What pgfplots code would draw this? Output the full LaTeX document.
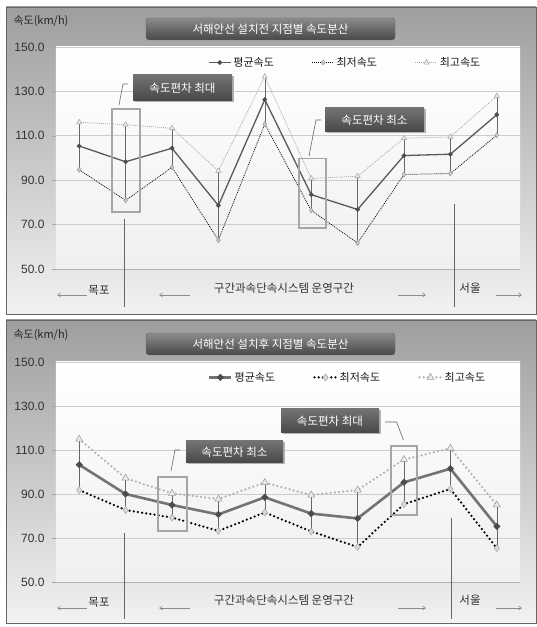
\documentclass[border=0pt]{standalone}
\usepackage{pgfplots}
\pgfplotsset{compat=1.18}
\usepackage{pgfplotstable}
\usepackage{fontspec}
\setmainfont{Liberation Sans}
\newfontfamily\kr{Noto Sans CJK KR}
\usetikzlibrary{arrows.meta}

\pgfplotstableread{
x mean lo hi
1 105.4 94.7 116.1
2 98.3 80.9 115.0
3 104.4 95.8 113.4
4 78.6 63.0 94.2
5 126.3 115.3 136.7
6 83.5 76.4 90.8
7 76.8 61.7 91.8
8 101.1 92.6 108.9
9 101.7 93.0 109.5
10 119.5 110.3 127.9
}\before

\pgfplotstableread{
x mean lo hi
1 103.3 91.8 114.9
2 90.0 82.7 97.2
3 85.0 79.3 90.3
4 80.7 73.2 87.7
5 88.5 81.6 95.2
6 81.1 73.0 89.5
7 78.9 65.9 91.8
8 95.3 85.4 105.7
9 101.5 92.3 110.8
10 75.3 65.4 85.0
}\after

\pgfplotsset{
  panel/.style={
    scale only axis, width=464pt,
    xmin=0.5, xmax=10.5, ymin=50, ymax=150,
    axis x line=bottom, axis y line=left,
    x axis line style={black!30,-},
    y axis line style={draw=none},
    xtick=\empty,
    ytick={50,70,...,150},
    ymajorgrids, grid style={black!20, line width=0.6pt},
    major tick length=4pt, tick align=outside,
    ytick style={black!35},
    /pgf/number format/assume math mode=true,
    yticklabel style={/pgf/number format/fixed, /pgf/number format/fixed zerofill, /pgf/number format/precision=1, font=\fontsize{12}{12}\selectfont, text=black!80, xshift=-4pt},
    axis background/.style={top color=white, bottom color=black!6},
    clip=false,
    legend columns=3,
    reverse legend,
    legend style={draw=none, fill=none, font=\kr\fontsize{11}{12}\selectfont, text=black!90, at={(0.321,0.93)}, anchor=west, /tikz/every even column/.append style={column sep=36pt}},
    legend cell align=left,
    legend image code/.code={\draw[mark repeat=2,mark phase=2,##1] plot coordinates {(0pt,0pt) (11pt,0pt) (22pt,0pt)};},
  },
  hilo/.style={draw=none, mark=none, forget plot, error bars/.cd, y dir=plus, y explicit, error mark=none, error bar style={draw=black!60, line width=0.6pt, solid}},
}

\begin{document}
\begin{tikzpicture}
\path (0pt,0pt) rectangle (536pt,627pt);
% ---------- panel backgrounds
\shade[top color=black!38, bottom color=black!5] (6pt,313pt) rectangle (536pt,620pt);
\draw[black!60, line width=0.8pt] (6pt,313pt) rectangle (536pt,620pt);
\shade[top color=black!38, bottom color=black!5] (6pt,4pt) rectangle (536pt,307pt);
\draw[black!60, line width=0.8pt] (6pt,4pt) rectangle (536pt,307pt);

% ---------- top axis
\begin{axis}[panel, height=222pt, at={(56pt,358pt)}, anchor=south west]
\addplot[hilo] table[x=x, y=lo, y error expr=\thisrow{hi}-\thisrow{lo}] {\before};
\addplot[black!35, line width=0.7pt, dash pattern=on 1pt off 1pt, mark=triangle*, mark size=3pt, mark options={solid, fill=black!8, draw=black!35, line width=0.5pt}] table[x=x,y=hi]{\before};
\addlegendentry{최고속도}
\addplot[black, line width=0.7pt, dash pattern=on 1pt off 1pt, mark=diamond*, mark size=2.5pt, mark options={solid, fill=black!20, draw=black!40, line width=0.5pt}] table[x=x,y=lo]{\before};
\addlegendentry{최저속도}
\addplot[black!65, line width=1.3pt, mark=*, mark size=1.6pt, mark options={fill=black!70, draw=black!70}] table[x=x,y=mean]{\before};
\addlegendentry{평균속도}
\end{axis}

% ---------- bottom axis
\begin{axis}[panel, height=220pt, at={(56pt,45pt)}, anchor=south west]
\addplot[hilo] table[x=x, y=lo, y error expr=\thisrow{hi}-\thisrow{lo}] {\after};
\addplot[black!30, line width=2.5pt, line cap=round, dash pattern=on 0pt off 4.2pt, mark=triangle*, mark size=4pt, mark options={solid, fill=black!8, draw=black!40, line width=0.5pt}] table[x=x,y=hi]{\after};
\addlegendentry{최고속도}
\addplot[black, line width=2.5pt, line cap=round, dash pattern=on 0pt off 4.2pt, mark=diamond*, mark size=3.5pt, mark options={solid, fill=black!15, draw=black!35, line width=0.5pt}] table[x=x,y=lo]{\after};
\addlegendentry{최저속도}
\addplot[black!55, line width=2.6pt, mark=*, mark size=1.8pt, mark options={fill=black!70, draw=black!70}] table[x=x,y=mean]{\after};
\addlegendentry{평균속도}
\end{axis}

\begin{scope}[x=1pt,y=1pt]
% ---------- decorations, top
\tikzset{
  ttl/.style={text=white, font=\kr\fontsize{11.5}{12}\selectfont},
  lab/.style={text=black!80, font=\kr\fontsize{11.5}{12}\selectfont},
  arr/.style={black!45, line width=0.6pt, -{Straight Barb[length=3pt,width=4pt]}},
  lead/.style={black!60, line width=0.6pt},
  hl/.style={black!35, line width=1.3pt},
  vl/.style={black!60, line width=0.7pt},
}
\node[anchor=west, font=\kr\fontsize{11}{12}\selectfont, text=black!85] at (10,606) {속도(km/h)};
\shade[top color=black!45, bottom color=black!72, draw=black!60, rounded corners=3pt] (146,587) rectangle (395,609);
\node[ttl] at (270.5,598) {서해안선 설치전 지점별 속도분산};

\fill[black!30] (134.5,524.5) rectangle (233.5,550.5);
\shade[top color=black!55, bottom color=black!72] (133,526) rectangle (232,552);
\node[ttl] at (182.5,539) {속도편차 최대};
\draw[lead] (128,543)--(123,543)--(119,522);
\draw[hl] (112,415) rectangle (140,518);

\fill[black!30] (326.5,493.5) rectangle (425.5,517.5);
\shade[top color=black!55, bottom color=black!72] (325,495) rectangle (424,519);
\node[ttl] at (374.5,507) {속도편차 최소};
\draw[lead] (321,507)--(316,507)--(309,471);
\draw[hl] (299,399) rectangle (326,468.5);

\draw[vl] (124,408)--(124,320);
\draw[vl] (454,423)--(454,320);
\node[lab] at (99,337) {목포};
\node[lab] at (284,338.5) {구간과속단속시스템 운영구간};
\node[lab] at (470,339) {서울};
\draw[arr] (87,332)--(57,332);
\draw[arr] (190,332)--(159,332);
\draw[arr] (398,332)--(426,332);
\draw[arr] (496,332)--(522,332);

% ---------- decorations, bottom
\node[anchor=west, font=\kr\fontsize{11}{12}\selectfont, text=black!85] at (10,292) {속도(km/h)};
\shade[top color=black!45, bottom color=black!72, draw=black!60, rounded corners=3pt] (146,272) rectangle (395,294);
\node[ttl] at (270.5,283) {서해안선 설치후 지점별 속도분산};

\fill[black!30] (282.5,192.5) rectangle (380.5,216.5);
\shade[top color=black!55, bottom color=black!72] (281,194) rectangle (379,218);
\node[ttl] at (330,206) {속도편차 최대};
\draw[lead] (385,205)--(396.6,205)--(403.4,187);
\draw[hl] (391,112) rectangle (417,181);

\fill[black!30] (187.5,162.5) rectangle (284.5,184.5);
\shade[top color=black!55, bottom color=black!72] (186,164) rectangle (283,186);
\node[ttl] at (234.5,175) {속도편차 최소};
\draw[lead] (180,177)--(175,177)--(171,156);
\draw[hl] (158,96) rectangle (187,150);

\draw[vl] (124,94)--(124,8);
\draw[vl] (451,109)--(451,8);
\node[lab] at (99,25) {목포};
\node[lab] at (284,26.5) {구간과속단속시스템 운영구간};
\node[lab] at (470,27) {서울};
\draw[arr] (87,19)--(57,19);
\draw[arr] (190,19)--(159,19);
\draw[arr] (398,19)--(426,19);
\draw[arr] (496,19)--(522,19);
\end{scope}
\end{tikzpicture}
\end{document}
